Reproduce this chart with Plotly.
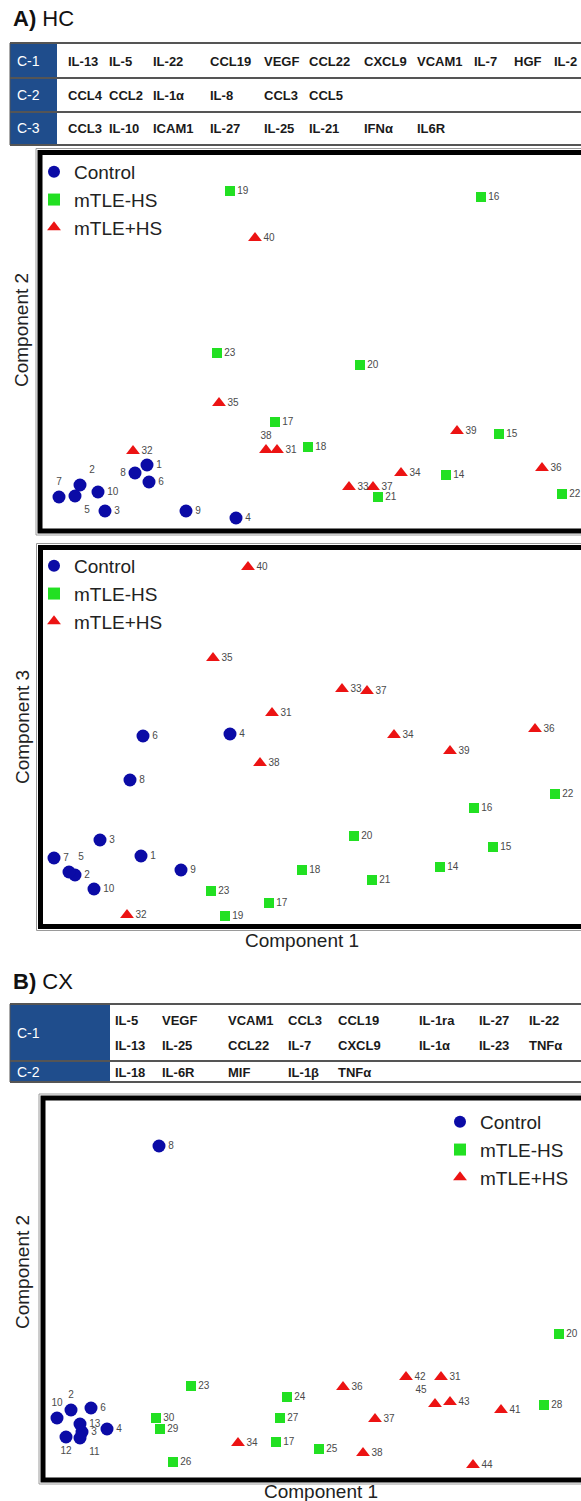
import plotly.graph_objects as go

W, H = 581, 1501
FONT = "Liberation Sans, Arial, sans-serif"

# ---------------- DATA ----------------
groups = ["Control", "mTLE-HS", "mTLE+HS"]

# Panel A (HC): Component 1 vs Component 2
hc12_ctrl_id = [1, 2, 3, 4, 5, 6, 7, 8, 9, 10]
hc12_ctrl_c1 = [0.94, -0.40, 0.10, 2.72, -0.50, 0.98, -0.82, 0.70, 1.72, -0.04]
hc12_ctrl_c2 = [0.50, 0.10, -0.42, -0.56, -0.12, 0.16, -0.14, 0.34, -0.42, -0.04]
hc12_nohs_id = [14, 15, 16, 17, 18, 19, 20, 21, 22, 23]
hc12_nohs_c1 = [6.92, 7.98, 7.62, 3.50, 4.16, 2.60, 5.20, 5.56, 9.24, 2.34]
hc12_nohs_c2 = [0.30, 1.12, 5.86, 1.36, 0.86, 5.98, 2.50, -0.14, -0.08, 2.74]
hc12_hs_id = [31, 32, 33, 34, 35, 36, 37, 38, 39, 40]
hc12_hs_c1 = [3.54, 0.66, 4.98, 6.02, 2.38, 8.84, 5.46, 3.32, 7.14, 3.10]
hc12_hs_c2 = [0.80, 0.78, 0.06, 0.34, 1.74, 0.44, 0.06, 0.80, 1.18, 5.04]

# Panel A (HC): Component 1 vs Component 3
hc13_ctrl_id = [1, 2, 3, 4, 5, 6, 7, 8, 9, 10]
hc13_ctrl_c1 = [0.82, -0.50, 0.00, 2.60, -0.62, 0.86, -0.92, 0.60, 1.62, -0.12]
hc13_ctrl_c3 = [0.48, 0.10, 0.80, 2.92, 0.16, 2.88, 0.44, 2.00, 0.20, -0.18]
hc13_nohs_id = [14, 15, 16, 17, 18, 19, 20, 21, 22, 23]
hc13_nohs_c1 = [6.80, 7.86, 7.48, 3.38, 4.04, 2.50, 5.08, 5.44, 9.10, 2.22]
hc13_nohs_c3 = [0.26, 0.66, 1.44, -0.46, 0.20, -0.72, 0.88, 0.00, 1.72, -0.22]
hc13_hs_id = [31, 32, 33, 34, 35, 36, 37, 38, 39, 40]
hc13_hs_c1 = [3.44, 0.54, 4.84, 5.88, 2.26, 8.70, 5.34, 3.20, 7.00, 2.96]
hc13_hs_c3 = [3.34, -0.70, 3.82, 2.90, 4.44, 3.02, 3.78, 2.34, 2.58, 6.26]

# Panel B (CX): Component 1 vs Component 2
cx12_ctrl_id = [2, 3, 4, 6, 8, 10, 11, 12, 13]
cx12_ctrl_c1 = [-0.58, -0.36, 0.14, -0.18, 1.18, -0.86, -0.40, -0.68, -0.40]
cx12_ctrl_c2 = [0.20, -0.24, -0.18, 0.24, 5.48, 0.04, -0.36, -0.34, -0.08]
cx12_nohs_id = [17, 20, 23, 24, 25, 26, 27, 28, 29, 30]
cx12_nohs_c1 = [3.52, 9.18, 1.82, 3.74, 4.38, 1.46, 3.60, 8.88, 1.20, 1.12]
cx12_nohs_c2 = [-0.44, 1.72, 0.68, 0.46, -0.58, -0.84, 0.04, 0.30, -0.18, 0.04]
cx12_hs_id = [31, 34, 36, 37, 38, 41, 42, 43, 44, 45]
cx12_hs_c1 = [6.82, 2.76, 4.86, 5.50, 5.26, 8.02, 6.12, 7.00, 7.46, 6.70]
cx12_hs_c2 = [0.86, -0.46, 0.66, 0.02, -0.66, 0.20, 0.86, 0.36, -0.90, 0.32]

# Tables of cytokines loading on each component
hc_c1 = ["IL-13", "IL-5", "IL-22", "CCL19", "VEGF", "CCL22", "CXCL9", "VCAM1", "IL-7", "HGF", "IL-2"]
hc_c2 = ["CCL4", "CCL2", "IL-1α", "IL-8", "CCL3", "CCL5"]
hc_c3 = ["CCL3", "IL-10", "ICAM1", "IL-27", "IL-25", "IL-21", "IFNα", "IL6R"]
cx_c1_a = ["IL-5", "VEGF", "VCAM1", "CCL3", "CCL19", "IL-1ra", "IL-27", "IL-22"]
cx_c1_b = ["IL-13", "IL-25", "CCL22", "IL-7", "CXCL9", "IL-1α", "IL-23", "TNFα"]
cx_c2 = ["IL-18", "IL-6R", "MIF", "IL-1β", "TNFα"]

# ---------------- STYLE ----------------
colors = {"Control": "#0b0ba6", "mTLE-HS": "#22e022", "mTLE+HS": "#ec1313"}
symbols = {"Control": "circle", "mTLE-HS": "square", "mTLE+HS": "triangle-up"}
msize = {"Control": 13, "mTLE-HS": 10, "mTLE+HS": 12}

label_pos = {
    ("hc12", 38): "top center", ("hc12", 7): "top center", ("hc12", 2): "top right",
    ("hc12", 8): "middle left", ("hc12", 5): "bottom right",
    ("hc13", 5): "top right",
    ("cx12", 10): "top center", ("cx12", 2): "top center", ("cx12", 12): "bottom center",
    ("cx12", 11): "bottom right", ("cx12", 45): "top left",
}


def px(x):
    return x / W


def py(y):
    return 1 - y / H


fig = go.Figure()


def add_group(panel, ids, xs, ys, group, xa, ya, legend):
    pos = [label_pos.get((panel, i), "middle right") for i in ids]
    fig.add_trace(go.Scatter(
        x=xs, y=ys, mode="markers+text", text=[str(i) for i in ids],
        textposition=pos, textfont=dict(size=10, color="#4a4a4a", family=FONT),
        marker=dict(symbol=symbols[group], size=msize[group], color=colors[group],
                    line=dict(width=0)),
        name=group, legend=legend, xaxis=xa, yaxis=ya, cliponaxis=False,
        hoverinfo="skip"))


add_group("hc12", hc12_ctrl_id, hc12_ctrl_c1, hc12_ctrl_c2, "Control", "x", "y", "legend")
add_group("hc12", hc12_nohs_id, hc12_nohs_c1, hc12_nohs_c2, "mTLE-HS", "x", "y", "legend")
add_group("hc12", hc12_hs_id, hc12_hs_c1, hc12_hs_c2, "mTLE+HS", "x", "y", "legend")
add_group("hc13", hc13_ctrl_id, hc13_ctrl_c1, hc13_ctrl_c3, "Control", "x2", "y2", "legend2")
add_group("hc13", hc13_nohs_id, hc13_nohs_c1, hc13_nohs_c3, "mTLE-HS", "x2", "y2", "legend2")
add_group("hc13", hc13_hs_id, hc13_hs_c1, hc13_hs_c3, "mTLE+HS", "x2", "y2", "legend2")
add_group("cx12", cx12_ctrl_id, cx12_ctrl_c1, cx12_ctrl_c2, "Control", "x3", "y3", "legend3")
add_group("cx12", cx12_nohs_id, cx12_nohs_c1, cx12_nohs_c2, "mTLE-HS", "x3", "y3", "legend3")
add_group("cx12", cx12_hs_id, cx12_hs_c1, cx12_hs_c2, "mTLE+HS", "x3", "y3", "legend3")

ax_common = dict(showgrid=False, zeroline=False, showticklabels=False, ticks="",
                 showline=False, fixedrange=True)

shapes = []
annotations = []

# ---- plot frames ----
frames = [  # (left, top, bottom) in px
    (40, 152.5, 531),
    (40.5, 547.5, 926.5),
    (43, 1098, 1480),
]
for (l, t, b) in frames:
    shapes.append(dict(type="rect", xref="paper", yref="paper",
                       x0=px(l - 4), x1=px(700), y0=py(b + 4), y1=py(t - 4),
                       line=dict(color="#9a9a9a", width=1), layer="below"))
    shapes.append(dict(type="rect", xref="paper", yref="paper",
                       x0=px(l), x1=px(700), y0=py(b), y1=py(t),
                       line=dict(color="#000000", width=5), layer="below"))


# ---- tables ----
def table(top, row_bottoms, label_right, labels):
    left = 10
    prev = top
    for rb, lab in zip(row_bottoms, labels):
        shapes.append(dict(type="rect", xref="paper", yref="paper",
                           x0=px(left), x1=px(label_right), y0=py(rb), y1=py(prev),
                           fillcolor="#1f4d8c", line=dict(width=0), layer="below"))
        annotations.append(dict(text=lab, x=px(left + 5), y=py((prev + rb) / 2),
                                xref="paper", yref="paper", xanchor="left", yanchor="middle",
                                showarrow=False, font=dict(size=14, color="white", family=FONT)))
        prev = rb
    for yy in [top] + row_bottoms:
        shapes.append(dict(type="line", xref="paper", yref="paper",
                           x0=px(left), x1=px(700), y0=py(yy), y1=py(yy),
                           line=dict(color="#555555", width=2)))
    shapes.append(dict(type="line", xref="paper", yref="paper",
                       x0=px(left), x1=px(left), y0=py(row_bottoms[-1]), y1=py(top),
                       line=dict(color="#555555", width=1)))


def row_text(words, cols, yc):
    for w, c in zip(words, cols):
        annotations.append(dict(text="<b>%s</b>" % w, x=px(c), y=py(yc), xref="paper",
                                yref="paper", xanchor="left", yanchor="middle",
                                showarrow=False,
                                font=dict(size=13, color="#1a1a1a", family=FONT)))


# Table A
table(43, [78, 112, 145], 57, ["C-1", "C-2", "C-3"])
colsA = [66, 107, 151, 208, 262, 307, 362, 415, 472, 512, 552]
row_text(hc_c1, colsA, 61)
row_text(hc_c2, colsA, 95)
row_text(hc_c3, colsA, 128.5)

# Table B
table(1004, [1061, 1082], 110, ["C-1", "C-2"])
colsB = [113, 160, 226, 286, 336, 417, 477, 527]
row_text(cx_c1_a, colsB, 1020)
row_text(cx_c1_b, colsB, 1045)
row_text(cx_c2, colsB, 1072)

# Panel titles
annotations.append(dict(text="<b>A)</b> HC", x=px(11), y=py(19), xref="paper", yref="paper",
                        xanchor="left", yanchor="middle", showarrow=False,
                        font=dict(size=22, color="#111", family=FONT)))
annotations.append(dict(text="<b>B)</b> CX", x=px(11), y=py(981), xref="paper", yref="paper",
                        xanchor="left", yanchor="middle", showarrow=False,
                        font=dict(size=22, color="#111", family=FONT)))

# Axis titles
for txt, yc in [("Component 2", 330), ("Component 3", 727), ("Component 2", 1272)]:
    annotations.append(dict(text=txt, x=px(22), y=py(yc), xref="paper", yref="paper",
                            xanchor="center", yanchor="middle", textangle=-90, showarrow=False,
                            font=dict(size=19, color="#222", family=FONT)))
for xc, yc in [(302, 940), (321, 1491)]:
    annotations.append(dict(text="Component 1", x=px(xc), y=py(yc), xref="paper", yref="paper",
                            xanchor="center", yanchor="middle", showarrow=False,
                            font=dict(size=19, color="#222", family=FONT)))

leg_common = dict(bgcolor="rgba(0,0,0,0)", borderwidth=0, itemsizing="constant",
                  font=dict(size=19, color="#222", family=FONT),
                  xanchor="left", yanchor="top", tracegroupgap=0)

fig.update_layout(
    width=W, height=H, margin=dict(l=0, r=0, t=0, b=0),
    paper_bgcolor="white", plot_bgcolor="white",
    showlegend=True,
    xaxis=dict(domain=[px(42), 1], range=[-1.16, 9.62], **ax_common),
    yaxis=dict(domain=[py(527), py(155)], range=[-0.74, 6.70], **ax_common),
    xaxis2=dict(domain=[px(42), 1], range=[-1.16, 9.62], **ax_common),
    yaxis2=dict(domain=[py(924), py(550)], range=[-0.88, 6.60], **ax_common),
    xaxis3=dict(domain=[px(45), 1], range=[-1.10, 9.62], **ax_common),
    yaxis3=dict(domain=[py(1478), py(1100)], range=[-1.16, 6.40], **ax_common),
    legend=dict(x=px(34), y=py(153), **leg_common),
    legend2=dict(x=px(34), y=py(547), **leg_common),
    legend3=dict(x=px(440), y=py(1103), **leg_common),
    shapes=shapes, annotations=annotations,
)

fig.write_html("out.html", config={"displayModeBar": False},
               post_script="document.body.style.margin='0';"
                           "document.body.style.overflow='hidden';")
